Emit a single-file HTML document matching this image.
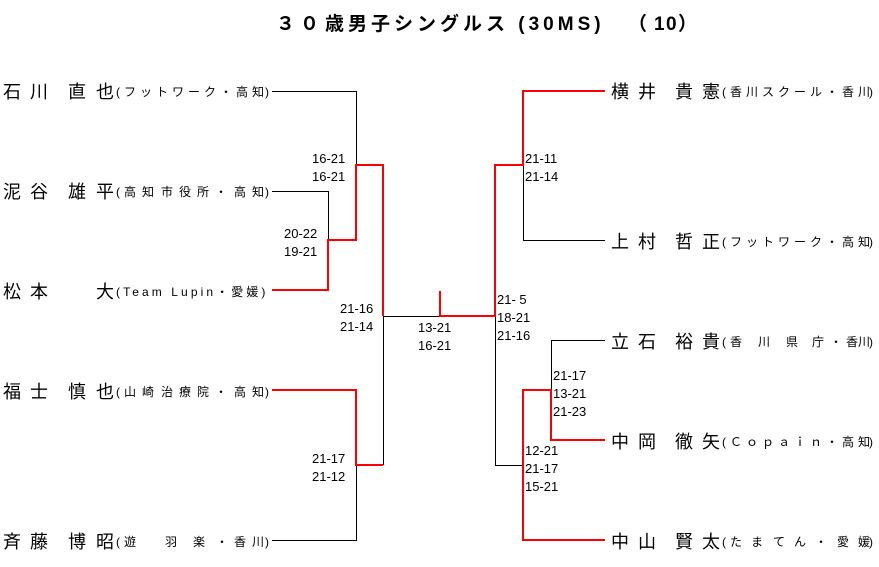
<!DOCTYPE html>
<html><head><meta charset="utf-8"><style>body{margin:0;background:#fff}svg{display:block}</style></head><body>
<svg width="879" height="567" xmlns="http://www.w3.org/2000/svg" font-family="'Liberation Sans','Noto Sans CJK JP',sans-serif">
<rect width="879" height="567" fill="#fff"/>
<g font-weight="bold" font-size="19" fill="#000">
<text x="276 300" y="30">３０</text>
<text x="325" y="30" letter-spacing="4">歳男子シングルス (30MS)</text>
<text x="628 654 666 678" y="30">（10）</text>
</g>
<g stroke="#000" stroke-width="1" fill="none">
<polyline points="272,91.5 356.5,91.5 356.5,165"/>
<polyline points="272,191.5 328.5,191.5 328.5,240"/>
<polyline points="272,540.5 356.5,540.5 356.5,465"/>
<polyline points="383.5,316.5 383.5,465"/>
<polyline points="383,316.5 440,316.5"/>
<polyline points="605,240.5 523.5,240.5 523.5,165"/>
<polyline points="495.5,316 495.5,465.5 523,465.5"/>
<polyline points="605,340.5 551.5,340.5 551.5,390"/>
</g>
<g stroke="#f00" stroke-width="2" fill="none">
<polyline points="272,290 328,290 328,240 356,240 356,165 383,165 383,316"/>
<polyline points="272,390 356,390 356,465 383,465"/>
<polyline points="440,291 440,316 495,316 495,165 523,165 523,91 605,91"/>
<polyline points="605,540 523,540 523,390 551,390 551,440 605,440"/>
</g>
<g font-size="18" fill="#000">
<text x="3 30 68 96" y="98">石川直也</text>
<text x="3 30 68 96" y="198">泥谷雄平</text>
<text x="3 30 96" y="298">松本大</text>
<text x="3 30 68 96" y="398">福士慎也</text>
<text x="3 30 68 96" y="548">斉藤博昭</text>
<text x="611 638 675 702" y="98">横井貴憲</text>
<text x="611 638 675 702" y="248">上村哲正</text>
<text x="611 638 675 702" y="348">立石裕貴</text>
<text x="611 638 675 702" y="448">中岡徹矢</text>
<text x="611 638 675 702" y="548">中山賢太</text>
</g>
<g font-size="12" fill="#000">
<text x="116 124 140 156 172 188 204 220 236 252 265" y="96">(フットワーク・高知)</text>
<text x="116 124 142 161 179 197 215 234 252 265" y="196">(高知市役所・高知)</text>
<text x="116" y="296" letter-spacing="3.1">(Team Lupin・愛媛)</text>
<text x="116 124 142 161 179 197 215 234 252 265" y="396">(山崎治療院・高知)</text>
<text x="116 124 165 193 216 234 252 265" y="546">(遊羽楽・香川)</text>
<text x="722 730 746 762 778 794 810 826 842 858 869" y="96">(香川スクール・香川)</text>
<text x="722 730 746 762 778 794 810 826 842 858 869" y="246">(フットワーク・高知)</text>
<text x="722 730 758 786 812 830 846 858 869" y="346">(香川県庁・香川)</text>
<text x="722 730 746 762 778 794 810 826 842 858 869" y="446">(Ｃｏｐａｉｎ・高知)</text>
<text x="722 730 751 773 794 815 837 858 869" y="546">(たまてん・愛媛)</text>
</g>
<g font-size="13" fill="#000">
<text x="312" y="163">16-21</text><text x="312" y="181">16-21</text>
<text x="284" y="238">20-22</text><text x="284" y="256">19-21</text>
<text x="340" y="313">21-16</text><text x="340" y="331">21-14</text>
<text x="418" y="332">13-21</text><text x="418" y="350">16-21</text>
<text x="312" y="463">21-17</text><text x="312" y="481">21-12</text>
<text x="525" y="163">21-11</text><text x="525" y="181">21-14</text>
<text x="497" y="304">21- 5</text><text x="497" y="322">18-21</text><text x="497" y="340">21-16</text>
<text x="553" y="380">21-17</text><text x="553" y="398">13-21</text><text x="553" y="416">21-23</text>
<text x="525" y="455">12-21</text><text x="525" y="473">21-17</text><text x="525" y="491">15-21</text>
</g>
</svg>
</body></html>
